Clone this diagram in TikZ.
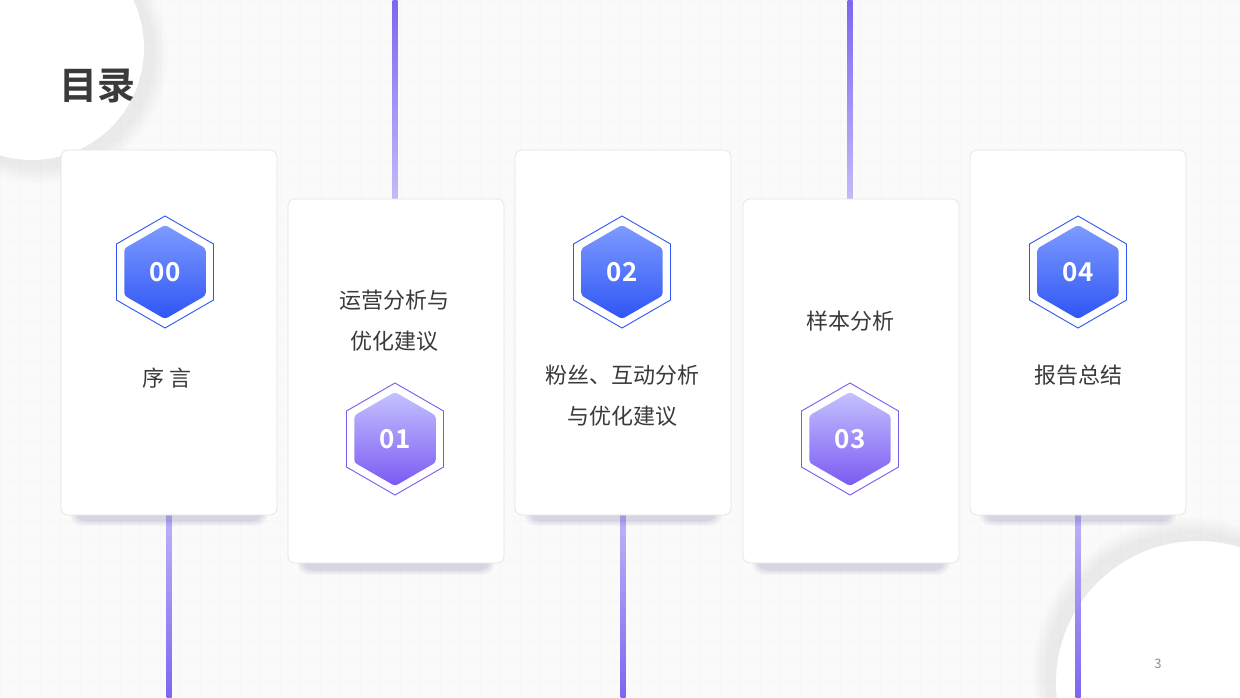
\documentclass[tikz,border=0pt]{standalone}
\usepackage{fontspec}
\setmainfont{Noto Sans CJK SC}
\newfontfamily\cjkb{Noto Sans CJK SC Bold}
\definecolor{lnp}{HTML}{7B68F0}
\definecolor{txt}{HTML}{3A3A3A}
\definecolor{bluet}{HTML}{7E9BFF}
\definecolor{blueb}{HTML}{2F55F5}
\definecolor{purt}{HTML}{C4C2FF}
\definecolor{purb}{HTML}{7B5AF2}
\tikzset{
  card/.style={draw=black!10,fill=white,rounded corners=7pt,line width=0.8pt},
  lbl/.style={text=txt,font=\fontsize{22}{41}\selectfont,align=center},
  num/.style={text=white,font=\cjkb\fontsize{26}{30}\selectfont},
}
\begin{document}
\begin{tikzpicture}[x=1pt,y=-1pt]
\useasboundingbox (0,0) rectangle (1240,697);
\fill[black!2] (0,0) rectangle (1240,697);
\foreach \i in {0,20,...,1240} \draw[black!3,line width=0.5pt] (\i,0)--(\i,697);
\foreach \j in {0,20,...,697} \draw[black!3,line width=0.5pt] (0,\j)--(1240,\j);
% decorative circles (soft)
\foreach \k in {1,...,8} \fill[black,opacity=0.008] (40,55) circle (112+2*\k);
\fill[white] (32,48) circle (112);
\foreach \k in {1,...,8} \fill[black,opacity=0.008] (1190,675) circle (142+2*\k);
\fill[white] (1198,683) circle (142);
\node[text=txt,font=\cjkb\fontsize{38}{40}\selectfont] (title) at (97,86) {目录};
\node[text=black!45,font=\fontsize{13}{14}\selectfont] (pg) at (1158,664) {3};
% lines
\shade[top color=lnp,bottom color=lnp!45] (392.5,0) rectangle (397.5,200);
\shade[top color=lnp,bottom color=lnp!45] (847.5,0) rectangle (852.5,200);
\foreach \x in {169,623,1078} \shade[top color=lnp!50,bottom color=lnp] (\x-2.5,514) rectangle (\x+2.5,697);
% card shadows
\foreach \x/\y in {61/150,288/199,515/150,743/199,970/150}{
  \foreach \k in {1,...,6} \fill[blue!40!black,opacity=0.025,rounded corners=12pt] (\x+15-\k,\y+20-\k) rectangle (\x+201+\k,\y+370+\k);
}
\draw[card] (61,150) rectangle (277,515) node[pos=0.5,opacity=0] (c0) {};
\draw[card] (288,199) rectangle (504,563) node[pos=0.5,opacity=0] (c1) {};
\draw[card] (515,150) rectangle (731,515) node[pos=0.5,opacity=0] (c2) {};
\draw[card] (743,199) rectangle (959,563) node[pos=0.5,opacity=0] (c3) {};
\draw[card] (970,150) rectangle (1186,515) node[pos=0.5,opacity=0] (c4) {};
% hexagons
\foreach \n/\x/\y/\ct/\cb in {00/165/272/bluet/blueb,01/395/439/purt/purb,02/622/272/bluet/blueb,03/850/439/purt/purb,04/1078/272/bluet/blueb}{
  \draw[\cb,line width=0.9pt,fill=white] (\x,\y-56)--(\x+48.5,\y-28)--(\x+48.5,\y+28)--(\x,\y+56)--(\x-48.5,\y+28)--(\x-48.5,\y-28)--cycle;
  \shade[top color=\ct,bottom color=\cb,rounded corners=3pt] (\x,\y-47)--(\x+40.7,\y-23.5)--(\x+40.7,\y+23.5)--(\x,\y+47)--(\x-40.7,\y+23.5)--(\x-40.7,\y-23.5)--cycle;
  \node[num] (h\n) at (\x,\y) {\n};
}
\node[lbl] (l0) at (167,378) {序 言};
\node[lbl] (l1) at (394,321) {运营分析与\\优化建议};
\node[lbl] (l2) at (622,396) {粉丝、互动分析\\与优化建议};
\node[lbl] (l3) at (850,321) {样本分析};
\node[lbl] (l4) at (1078,375) {报告总结};
\end{tikzpicture}
\end{document}
